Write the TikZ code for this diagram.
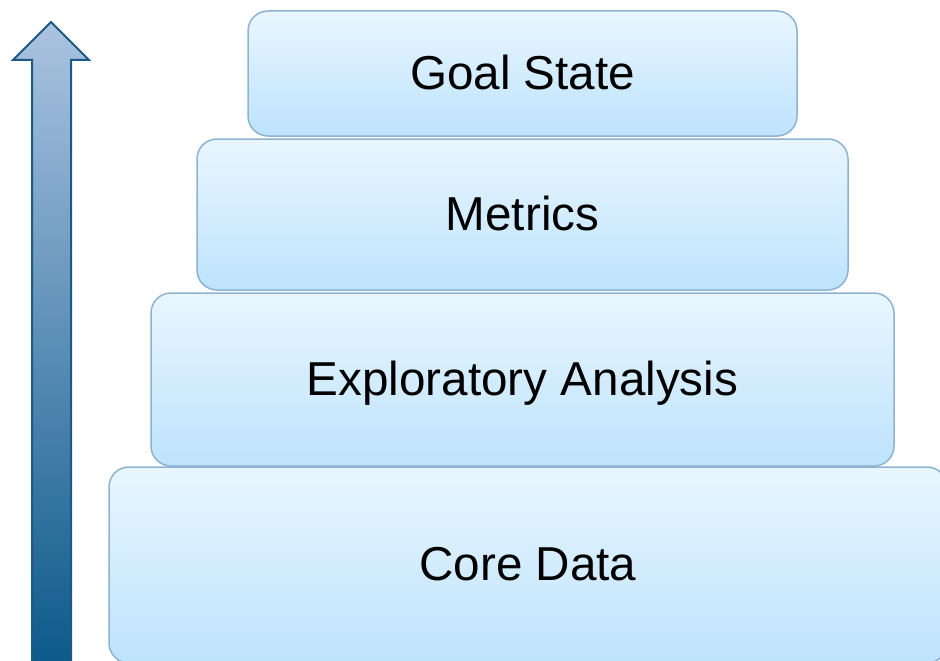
\documentclass[tikz,border=0pt]{standalone}
\usepackage{xcolor}
\usepackage{fontspec}
\setmainfont{Liberation Sans}
\usepackage{tikz}

\definecolor{boxtop}{HTML}{E9F6FF}
\definecolor{boxbot}{HTML}{BDE3FC}
\definecolor{boxline}{HTML}{8DB3D1}
\definecolor{arrtop}{HTML}{ABC3E1}
\definecolor{arrbot}{HTML}{0B598A}
\definecolor{arrline}{HTML}{1B5A86}

\tikzset{
    layer/.style={rectangle, rounded corners=20pt, draw=boxline, line width=1.5pt,
        top color=boxtop, bottom color=boxbot, inner sep=0pt,
        text height=34pt, text depth=3pt,
        font=\fontsize{47.6}{56}\selectfont}
}

\begin{document}
\begin{tikzpicture}[x=1pt, y=-1pt]
        \useasboundingbox (0, 0) rectangle (940, 661);

        \node[layer, minimum width=838pt, minimum height=196pt] (core) at (528, 565) {Core Data};
        \node[layer, minimum width=743pt, minimum height=173pt] (explore) at (522.5, 379.5) {Exploratory Analysis};
        \node[layer, minimum width=651pt, minimum height=151pt] (metrics) at (522.5, 214.5) {Metrics};
        \node[layer, minimum width=549pt, minimum height=125pt] (goal) at (522.5, 73.5) {Goal State};

        % the upward arrow
        \shade[top color=arrtop, bottom color=arrbot, draw=arrline, line width=2pt, line join=miter]
            (32, 668) -- (32, 60) -- (13, 60) -- (51, 22) -- (89, 60) -- (71, 60) -- (71, 668) -- cycle;
    \end{tikzpicture}
\end{document}
